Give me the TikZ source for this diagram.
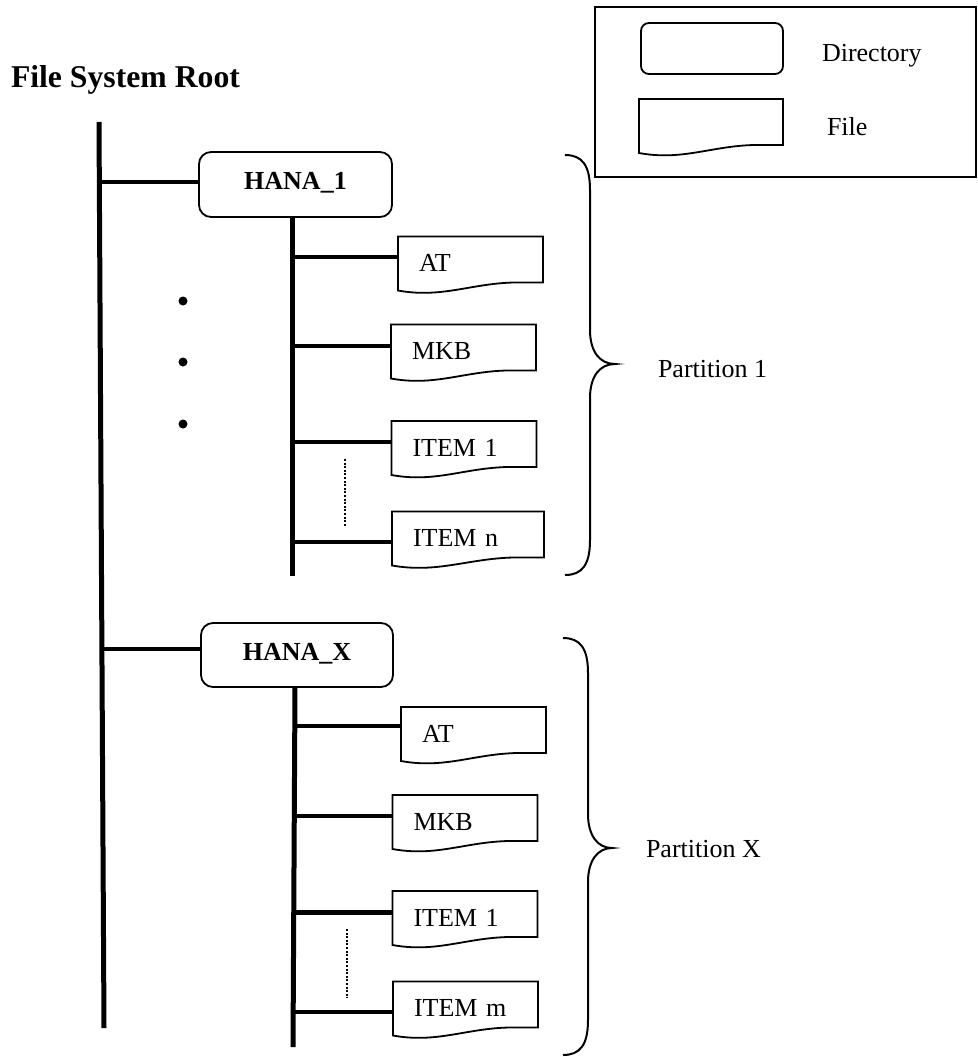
\documentclass[tikz,border=0pt]{standalone}
\usepackage{fontspec}
\setmainfont{Liberation Serif}
\usetikzlibrary{calc}
\tikzset{
 every node/.style={inner sep=0pt, outer sep=0pt},
 dirbox/.style={draw, line width=1.8pt, rounded corners=12pt, minimum width=193pt, minimum height=65pt, text height=17pt, text depth=7pt, font=\fontsize{26}{30}\selectfont\bfseries},
 filebox/.style={inner xsep=21pt, text width=103pt, minimum height=46pt, text height=26pt, text depth=2pt, align=left, font=\fontsize{26}{30}\selectfont},
 fileline/.style={line width=1.8pt, line join=miter},
 trunk/.style={line width=5pt},
 conn/.style={line width=4.5pt},
 dotline/.style={line width=2.5pt, dash pattern=on 2pt off 1.6pt},
 bracestyle/.style={line width=2pt},
 lbl/.style={anchor=base west, font=\fontsize{26}{30}\selectfont},
}
\newcommand\docoutline[1]{%
 \draw[fileline] (#1.north west) -- (#1.north east) -- (#1.south east)
 -- ($(#1.south west)!0.8!(#1.south east)$)
 .. controls ($(#1.south west)!0.5!(#1.south east)+(0,1)$) and ($(#1.south west)!0.3!(#1.south east)+(0,16)$) .. ($(#1.south west)+(0,8)$) -- cycle;}
\newcommand\fconn[3]{\draw[conn] ([yshift=#2]#1.west) -- ([yshift=#2]#1.west -| #3);}
\begin{document}
\begin{tikzpicture}[x=1pt,y=-1pt]
\useasboundingbox (0,0) rectangle (977,1057);
% title
\node[anchor=base west, font=\fontsize{31.7}{36}\selectfont\bfseries] (title) at (11,88) {File System Root};
% legend
\draw[line width=2pt] (595,7) rectangle (976,177);
\node[draw, line width=1.8pt, rounded corners=8pt, minimum width=142pt, minimum height=51pt] (legdir) at (712,48.5) {};
\node[minimum width=144pt, minimum height=46pt] (legfile) at (711,122) {};
\docoutline{legfile}
\node[lbl] (legdirtxt) at (822,62) {Directory};
\node[lbl] (legfiletxt) at (827,135) {File};
% root trunk
\coordinate (roottop) at (99,122);
\coordinate (rootbot) at (104,1028);
\draw[trunk] (roottop) -- (rootbot);
\coordinate (j1) at (99.3,182);
\coordinate (jx) at (101.9,649);
% directories
\node[dirbox] (hana1) at (295.5,184.5) {HANA\_1};
\node[dirbox, minimum width=192pt, minimum height=64pt] (hanax) at (297,655) {HANA\_X};
\draw[conn] (j1) -- (j1 -| hana1.west);
\draw[conn] (jx) -- (jx -| hanax.west);
% bullets
\fill (183,301) circle[radius=4.5pt];
\fill (183,362) circle[radius=4.5pt];
\fill (183,424) circle[radius=4.5pt];
% sub trunks
\coordinate (s1top) at ([xshift=-3.5pt]hana1.south);
\coordinate (s1bot) at (292,576);
\draw[trunk] (s1top) -- (s1bot);
\coordinate (sxtop) at ([xshift=-2pt]hanax.south);
\coordinate (sxbot) at (293,1047);
\draw[trunk] (sxtop) -- (sxbot);
% partition 1 files
\node[filebox] (at1) at (470.5,259.5) {AT};
\node[filebox] (mkb1) at (463.5,347.5) {MKB};
\node[filebox] (it11) at (464,444) {ITEM 1};
\node[filebox, text width=110pt] (itn1) at (468,534.5) {ITEM n};
\foreach \n in {at1,mkb1,it11,itn1} {\docoutline{\n}}
\fconn{at1}{2.5pt}{s1top}
\fconn{mkb1}{1.5pt}{s1top}
\fconn{it11}{2pt}{s1top}
\fconn{itn1}{-7.5pt}{s1top}
\draw[dotline] (345,459) -- (345,527);
% partition X files
\node[filebox] (atx) at (473.5,730) {AT};
\node[filebox] (mkbx) at (465,818) {MKB};
\node[filebox] (it1x) at (465,914) {ITEM 1};
\node[filebox] (itmx) at (465.5,1004.5) {ITEM m};
\foreach \n in {atx,mkbx,it1x,itmx} {\docoutline{\n}}
\fconn{atx}{4pt}{sxtop}
\fconn{mkbx}{2pt}{sxtop}
\fconn{it1x}{1.5pt}{sxtop}
\fconn{itmx}{-7.5pt}{sxtop}
\draw[dotline] (347,929) -- (347,998);
% braces
\draw[bracestyle] (565,155) .. controls (582,155) and (590,165) .. (590,190) -- (590,330) .. controls (590,352) and (600,364) .. (615,364) .. controls (600,364) and (590,376) .. (590,398) -- (590,540) .. controls (590,565) and (582,575) .. (565,575);
\draw[bracestyle] (563,638) .. controls (580,638) and (588,648) .. (588,673) -- (588,814) .. controls (588,836) and (598,848) .. (612,848) .. controls (598,848) and (588,860) .. (588,882) -- (588,1020) .. controls (588,1045) and (580,1055) .. (563,1055);
\node[lbl] (p1) at (658,377) {Partition 1};
\node[lbl] (px) at (646,857) {Partition X};
\end{tikzpicture}
\end{document}
